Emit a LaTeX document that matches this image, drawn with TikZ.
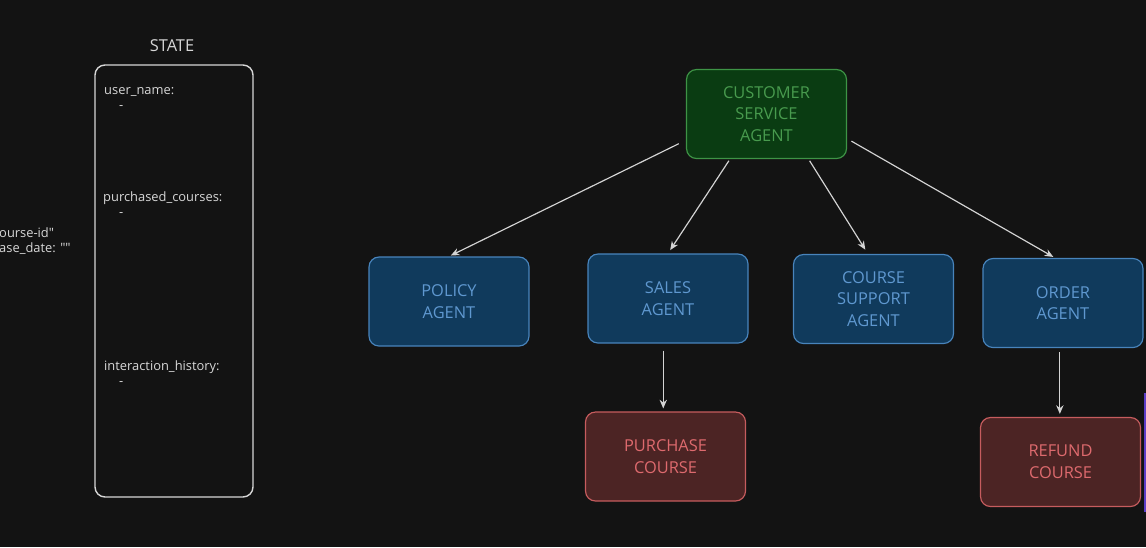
\documentclass[tikz,border=0pt]{standalone}
\usepackage{fontspec}
\setmainfont{Open Sans}
\newfontfamily\fieldfont{Open Sans}
\usetikzlibrary{positioning, arrows.meta}

\definecolor{bgdark}{RGB}{19,19,19}
\definecolor{statefg}{RGB}{215,215,215}
\definecolor{greenfill}{RGB}{10,60,18}
\definecolor{greendraw}{RGB}{62,148,70}
\definecolor{greentext}{RGB}{72,155,78}
\definecolor{bluefill}{RGB}{16,58,92}
\definecolor{bluedraw}{RGB}{72,132,188}
\definecolor{bluetext}{RGB}{95,152,208}
\definecolor{redfill}{RGB}{76,36,36}
\definecolor{reddraw}{RGB}{198,92,94}
\definecolor{redtext}{RGB}{222,106,110}
\definecolor{arrowgray}{RGB}{212,212,212}
\definecolor{edgepurple}{RGB}{92,62,200}

\begin{document}
\begin{tikzpicture}[
    x=0.03cm, y=-0.03cm,
    every node/.style={font=\fontsize{14}{18.7}\selectfont},
    agent/.style={rectangle, rounded corners=0.3cm, draw, line width=1pt, minimum width=4.8cm, minimum height=2.67cm, align=center, inner sep=0pt, text depth=-4.8pt},
    main/.style={agent, fill=greenfill, draw=greendraw, text=greentext},
    sub/.style={agent, fill=bluefill, draw=bluedraw, text=bluetext},
    tool/.style={agent, fill=redfill, draw=reddraw, text=redtext},
    field/.style={anchor=west, text=statefg, inner sep=0pt, font=\fieldfont\fontsize{11}{14}\selectfont},
    arrow/.style={-{Stealth[length=0.26cm, width=0.22cm]}, line width=1pt, arrowgray}]

  \useasboundingbox (0,0) rectangle (1146,547);
  \fill[bgdark] (0,0) rectangle (1146,547);

  % state panel
  \node[text=statefg, font=\fontsize{14}{16}\selectfont] (stateTitle) at (172,46) {STATE};
  \draw[statefg, line width=1.2pt, rounded corners=0.3cm] (95,65) rectangle (253,497);
  \node[field] (fUser)     at (104,92)  {user\_name:};
  \node[field] (fUserV)    at (119,108) {-};
  \node[field] (fCourses)  at (103,198) {purchased\_courses:};
  \node[field] (fCoursesV) at (119,215) {-};
  \node[field] (fHist)     at (104,367) {interaction\_history:};
  \node[field] (fHistV)    at (119,384) {-};

  % cut-off text at the left edge
  \node[field] (cutA) at (-1,233) {ourse-id"};
  \node[field] (cutB) at (-1,249) {ase\_date: ""};

  % agents
  \node[main] (csa)     at (766.5,114) {CUSTOMER\\SERVICE\\AGENT};
  \node[sub]  (policy)  at (449,301.5) {POLICY\\AGENT};
  \node[sub]  (sales)   at (668,298.5) {SALES\\AGENT};
  \node[sub]  (support) at (873.5,299) {COURSE\\SUPPORT\\AGENT};
  \node[sub]  (order)   at (1063,303)  {ORDER\\AGENT};
  \node[tool] (purchase) at (665.5,456.5) {PURCHASE\\COURSE};
  \node[tool] (refund)   at (1060.5,462) {REFUND\\COURSE};

  \draw[arrow, shorten <=0.24cm, shorten >=0.06cm] (csa.198) -- (policy.north);
  \draw[arrow, shorten <=0.06cm, shorten >=0.12cm] (csa.231) -- (sales.north);
  \draw[arrow, shorten <=0.06cm, shorten >=0.15cm] (csa.313) -- (support.97);
  \draw[arrow, shorten <=0.15cm, shorten >=0.06cm] (csa.343) -- (order.100);
  \draw[arrow, shorten <=0.21cm, shorten >=0.09cm] (sales.264) -- (sales.264 |- purchase.north);
  \draw[arrow, shorten <=0.12cm, shorten >=0.09cm] (order.266) -- (order.266 |- refund.north);

  % cut-off shape at the right edge
  \draw[edgepurple, line width=2pt] (1145.5,393) -- (1145.5,512);
\end{tikzpicture}
\end{document}
